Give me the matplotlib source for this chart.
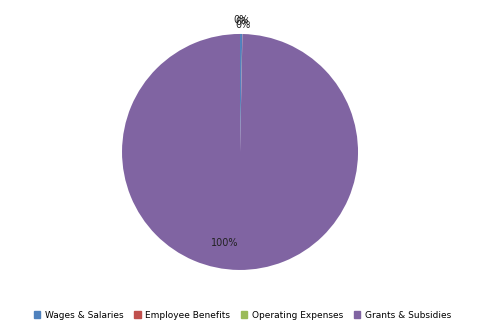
import numpy as np
import matplotlib.pyplot as plt

categories = ['Wages & Salaries', 'Employee Benefits', 'Operating Expenses', 'Grants & Subsidies']
values = [0.3, 0.02, 0.01, 99.67]
pct_labels = ['0%', '0%', '0%', '100%']
colors = ['#4F81BD', '#C0504D', '#9BBB59', '#8064A2']

fig = plt.figure(figsize=(4.8, 3.33), dpi=100)
ax = fig.add_axes([0.2542, 0.1893, 0.4917, 0.7087])

wedges, _ = ax.pie(values, colors=colors, startangle=90, counterclock=False,
                   wedgeprops=dict(linewidth=0))
ax.set_aspect('equal')

# percentage labels: small slices outside (slightly stacked), big slice inside
for i, (w, lab) in enumerate(zip(wedges, pct_labels)):
    mid = np.deg2rad((w.theta1 + w.theta2) / 2)
    if lab == '100%':
        r = 0.78
        ang = mid - np.deg2rad(9)
        dy = 0
    else:
        r = 1.12
        ang = mid
        dy = -0.02 * i
    ax.text(r * np.cos(ang), r * np.sin(ang) + dy, lab, ha='center', va='center',
            fontsize=7, color='#222222', clip_on=False)
ax.set_xlim(-1, 1)
ax.set_ylim(-1, 1)

handles = [plt.Rectangle((0, 0), 1, 1, color=c) for c in colors]
fig.legend(handles, categories, loc='center', bbox_to_anchor=(0.505, 0.054),
           ncol=4, frameon=False, fontsize=6.5, handlelength=0.7, handleheight=0.7,
           columnspacing=1.2, handletextpad=0.5)

fig.savefig('out.png', dpi=100)
